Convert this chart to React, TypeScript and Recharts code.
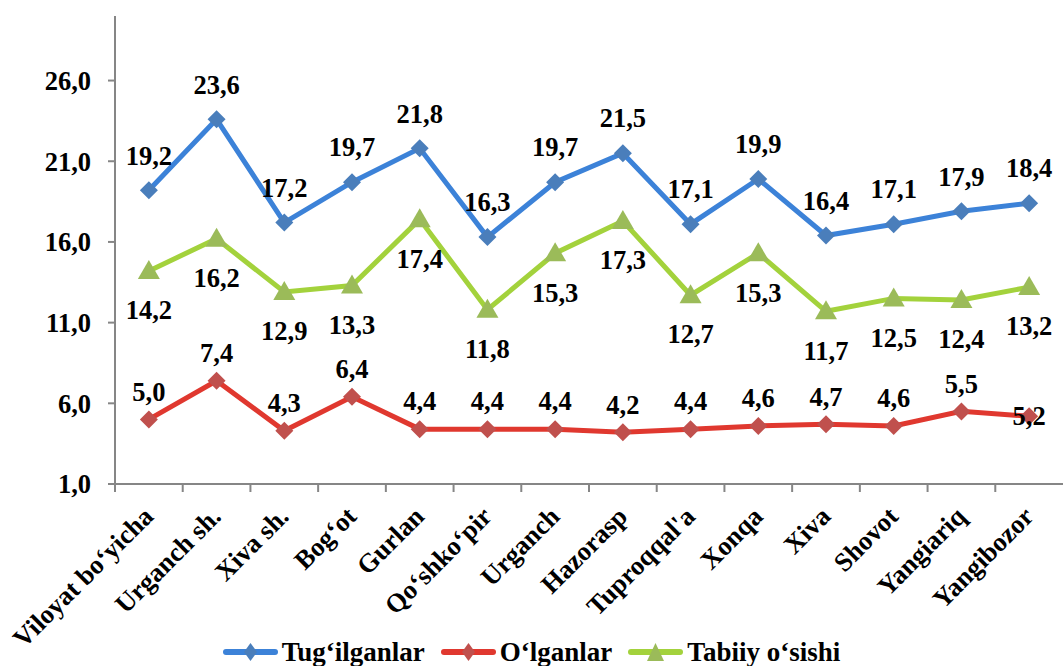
import React from "react";
import { LineChart, Line, XAxis, YAxis, LabelList } from "recharts";

const categories = [
  "Viloyat bo‘yicha",
  "Urganch sh.",
  "Xiva sh.",
  "Bog‘ot",
  "Gurlan",
  "Qo‘shko‘pir",
  "Urganch",
  "Hazorasp",
  "Tuproqqal'a",
  "Xonqa",
  "Xiva",
  "Shovot",
  "Yangiariq",
  "Yangibozor",
];
const births = [19.2, 23.6, 17.2, 19.7, 21.8, 16.3, 19.7, 21.5, 17.1, 19.9, 16.4, 17.1, 17.9, 18.4];
const deaths = [5.0, 7.4, 4.3, 6.4, 4.4, 4.4, 4.4, 4.2, 4.4, 4.6, 4.7, 4.6, 5.5, 5.2];
const growth = [14.2, 16.2, 12.9, 13.3, 17.4, 11.8, 15.3, 17.3, 12.7, 15.3, 11.7, 12.5, 12.4, 13.2];
const yTicks = [1, 6, 11, 16, 21, 26];

const seriesNames = ["Tug‘ilganlar", "O‘lganlar", "Tabiiy o‘sishi"];

const data = categories.map((name, i) => ({
  name,
  births: births[i],
  deaths: deaths[i],
  growth: growth[i],
}));

const W = 1063;
const H = 666;
const AXIS_W = 115;
const LEGEND_H = 40;
const STEP = (W - AXIS_W) / categories.length;
const FONT = "Liberation Serif, Times New Roman, serif";
const FS = 26.5;
const AXIS_GRAY = "#868686";

const BLUE_LINE = "#3C82D8";
const BLUE_MARK = "#4A7EBB";
const RED_LINE = "#E0382F";
const RED_MARK = "#C0504D";
const GREEN_LINE = "#A3D23C";
const GREEN_MARK = "#9BBB59";

const fmt = (v: number) => v.toFixed(1).replace(".", ",");

function Diamond({ cx, cy, fill }: any) {
  if (cx == null || cy == null) return null;
  const r = 9;
  return <path d={`M${cx},${cy - r}L${cx + r},${cy}L${cx},${cy + r}L${cx - r},${cy}Z`} fill={fill} />;
}

function Triangle({ cx, cy, fill }: any) {
  if (cx == null || cy == null) return null;
  return <path d={`M${cx},${cy - 11}L${cx + 11},${cy + 8}L${cx - 11},${cy + 8}Z`} fill={fill} />;
}

const labelText = (x: number, y: number, v: number) => (
  <text x={x} y={y} dy="0.35em" textAnchor="middle" fontFamily={FONT} fontWeight="bold" fontSize={FS} fill="#000">
    {fmt(v)}
  </text>
);

function XTick({ x, y, payload }: any) {
  const ax = x + 6;
  const ay = y + 26;
  return (
    <g>
      <line x1={x - STEP / 2} y1={y - 8} x2={x - STEP / 2} y2={y} stroke={AXIS_GRAY} strokeWidth={2} />
      <text
        x={ax}
        y={ay}
        textAnchor="end"
        transform={`rotate(-45, ${ax}, ${ay})`}
        fontFamily={FONT}
        fontWeight="bold"
        fontSize={FS}
        fill="#000"
      >
        {payload.value}
      </text>
    </g>
  );
}

function LegendIcon({ color, mark, tri }: { color: string; mark: string; tri?: boolean }) {
  return (
    <svg width={55} height={24} style={{ display: "block" }}>
      <line x1={3} y1={12} x2={52} y2={12} stroke={color} strokeWidth={6} strokeLinecap="round" />
      {tri ? (
        <path d="M27.5,3L36,21L19,21Z" fill={mark} />
      ) : (
        <path d="M27.5,3L34,12L27.5,21L21,12Z" fill={mark} />
      )}
    </svg>
  );
}

export default function App() {
  return (
    <div style={{ position: "absolute", left: 0, top: 0, width: W, height: H, background: "#fff" }}>
      <LineChart width={W} height={H} data={data} margin={{ top: 16, right: 0, left: 0, bottom: LEGEND_H }}>
        <XAxis
          dataKey="name"
          interval={0}
          height={142}
          padding={{ left: STEP / 2, right: STEP / 2 }}
          tick={<XTick />}
          tickLine={false}
          axisLine={{ stroke: AXIS_GRAY, strokeWidth: 2 }}
        />
        <YAxis
          width={AXIS_W}
          domain={[1, 30]}
          ticks={yTicks}
          allowDataOverflow
          tickFormatter={fmt}
          tickSize={7}
          tickMargin={17}
          axisLine={{ stroke: AXIS_GRAY, strokeWidth: 2 }}
          tickLine={{ stroke: AXIS_GRAY, strokeWidth: 2 }}
          tick={{ fontFamily: FONT, fontWeight: "bold", fontSize: FS, fill: "#000" }}
        />
        <Line
          dataKey="births"
          name={seriesNames[0]}
          stroke={BLUE_LINE}
          strokeWidth={5}
          dot={<Diamond fill={BLUE_MARK} />}
          activeDot={false}
          isAnimationActive={false}
        >
          <LabelList dataKey="births" content={(p: any) => labelText(p.x, p.y - 35, p.value)} />
        </Line>
        <Line
          dataKey="deaths"
          name={seriesNames[1]}
          stroke={RED_LINE}
          strokeWidth={5}
          dot={<Diamond fill={RED_MARK} />}
          activeDot={false}
          isAnimationActive={false}
        >
          <LabelList
            dataKey="deaths"
            content={(p: any) =>
              p.index === categories.length - 1 ? labelText(p.x, p.y, p.value) : labelText(p.x, p.y - 28, p.value)
            }
          />
        </Line>
        <Line
          dataKey="growth"
          name={seriesNames[2]}
          stroke={GREEN_LINE}
          strokeWidth={5}
          dot={<Triangle fill={GREEN_MARK} />}
          activeDot={false}
          isAnimationActive={false}
        >
          <LabelList dataKey="growth" content={(p: any) => labelText(p.x, p.y + 39, p.value)} />
        </Line>
      </LineChart>
      <div
        style={{
          position: "absolute",
          left: 0,
          top: H - LEGEND_H,
          width: W,
          height: LEGEND_H,
          display: "flex",
          justifyContent: "center",
          alignItems: "center",
          fontFamily: FONT,
          fontWeight: "bold",
          fontSize: 27,
          lineHeight: "27px",
          paddingTop: 12,
          boxSizing: "border-box",
        }}
      >
        {[
          { c: BLUE_LINE, m: BLUE_MARK, tri: false },
          { c: RED_LINE, m: RED_MARK, tri: false },
          { c: GREEN_LINE, m: GREEN_MARK, tri: true },
        ].map((s, i) => (
          <div key={i} style={{ display: "flex", alignItems: "center", marginLeft: i === 0 ? 0 : 16 }}>
            <LegendIcon color={s.c} mark={s.m} tri={s.tri} />
            <span style={{ marginLeft: 4 }}>{seriesNames[i]}</span>
          </div>
        ))}
      </div>
    </div>
  );
}
